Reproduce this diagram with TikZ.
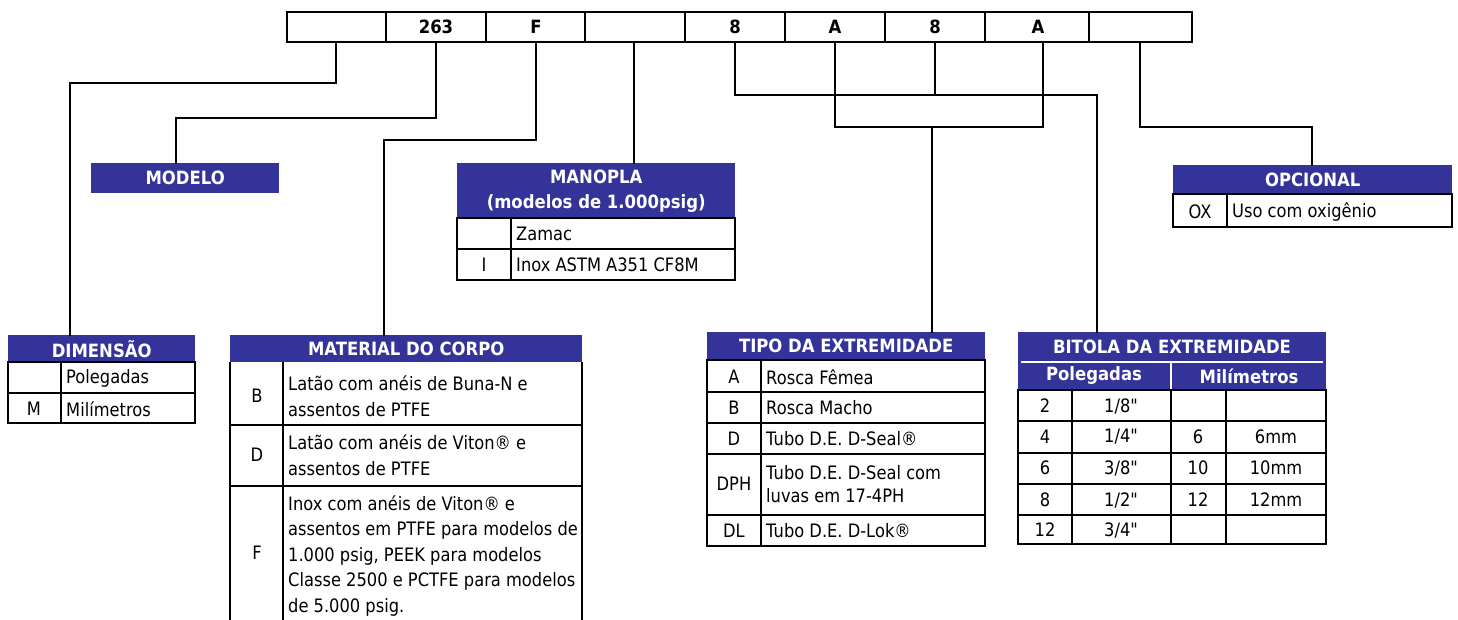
\documentclass[tikz,border=0pt]{standalone}
\usepackage{fontspec}
\setmainfont{DejaVu Sans}[FakeStretch=0.88, Ligatures=TeXOff]
\newfontfamily\hdfont{DejaVu Sans}[FakeStretch=0.90]
\definecolor{hdblue}{RGB}{51,51,153}
\tikzset{
  hdr/.style={fill=hdblue, draw=none, inner sep=0pt, anchor=north west, text=white,
    font=\hdfont\bfseries\fontsize{18.3}{25}\selectfont, align=center},
  htxt/.style={text=white, inner sep=0pt, font=\hdfont\bfseries\fontsize{18.3}{25}\selectfont},
  tx/.style={inner sep=0pt, anchor=west, align=left, font=\fontsize{18.5}{25.5}\selectfont},
  cd/.style={inner sep=0pt, font=\fontsize{18.5}{25.5}\selectfont},
  bar/.style={inner sep=0pt, font=\hdfont\bfseries\fontsize{18.3}{20}\selectfont},
  tb/.style={line width=2.2pt},
  conn/.style={line width=1.4pt, line cap=rect},
}
\newcommand{\inch}{\symbol{34}}
\begin{document}
\begin{tikzpicture}[x=1pt,y=-1pt]
\useasboundingbox[fill=white] (0,0) rectangle (1458,619);

% ---- top code bar ----
\draw[line width=2.8pt] (287,12) rectangle (1192,42);
\foreach \xx in {386,486,585,685,785,885,985,1089}
  \draw[line width=1.6pt] (\xx,12) -- (\xx,42);
\node[bar] (t2) at (436,27) {263};
\node[bar] (t3) at (536,27) {F};
\node[bar] (t5) at (735,27) {8};
\node[bar] (t6) at (835,27) {A};
\node[bar] (t7) at (935,27) {8};
\node[bar] (t8) at (1038,27) {A};
\coordinate (c1) at (336,42);
\coordinate (c2) at (436,42);
\coordinate (c3) at (536,42);
\coordinate (c4) at (634,42);
\coordinate (c5) at (735,42);
\coordinate (c6) at (835,42);
\coordinate (c7) at (935,42);
\coordinate (c8) at (1043,42);
\coordinate (c9) at (1140,42);

% ---- headers ----
\node[hdr, minimum width=187pt, minimum height=27pt] (dimH) at (8,335) {DIMENSÃO};
\node[hdr, minimum width=188pt, minimum height=30pt] (modH) at (91,163) {MODELO};
\node[hdr, minimum width=352pt, minimum height=27pt] (matH) at (230,335) {MATERIAL DO CORPO};
\node[hdr, minimum width=278pt, minimum height=55pt] (manH) at (457,163) {MANOPLA\\(modelos de 1.000psig)};
\node[hdr, minimum width=278pt, minimum height=28pt] (tipH) at (707,332) {TIPO DA EXTREMIDADE};
\node[hdr, minimum width=308pt, minimum height=58pt] (bitH) at (1018,332) {};
\node[hdr, minimum width=279pt, minimum height=29pt] (opcH) at (1173,165) {OPCIONAL};

% ---- connectors ----
\coordinate (j1) at (70,83);
\coordinate (j2) at (176,118);
\coordinate (j3) at (384,140);
\coordinate (j5) at (1097,95);
\coordinate (j6) at (932,127);
\coordinate (j9) at (1312,127);
\draw[conn] (c1) |- (j1) -- (j1 |- dimH.north);
\draw[conn] (c2) |- (j2) -- (j2 |- modH.north);
\draw[conn] (c3) |- (j3) -- (j3 |- matH.north);
\draw[conn] (c4) -- (c4 |- manH.north);
\draw[conn] (c5) |- (j5) -- (j5 |- bitH.north);
\draw[conn] (c7) -- (c7 |- j5);
\draw[conn] (c6) |- (c8 |- j6);
\draw[conn] (c8) -- (c8 |- j6);
\draw[conn] (j6) -- (j6 |- tipH.north);
\draw[conn] (c9) |- (j9) -- (j9 |- opcH.north);

% ---- DIMENSAO ----
\draw[tb] (8,362) rectangle (195,423);
\draw[tb] (8,393) -- (195,393);
\draw[tb] (61,362) -- (61,423);
\node[tx] (d1) at (66,378) {Polegadas};
\node[cd] (d2c) at (34,409) {M};
\node[tx] (d2) at (66,409) {Milímetros};

% ---- MATERIAL DO CORPO ----
\draw[tb] (230,362) -- (230,625);
\draw[tb] (582,362) -- (582,625);
\draw[tb] (283,362) -- (283,625);
\draw[tb] (230,425) -- (582,425);
\draw[tb] (230,486) -- (582,486);
\node[cd] (m1c) at (257,396) {B};
\node[tx] (m1) at (288,396) {Latão com anéis de Buna-N e\\assentos de PTFE};
\node[cd] (m2c) at (257,455) {D};
\node[tx] (m2) at (288,455) {Latão com anéis de Viton® e\\assentos de PTFE};
\node[cd] (m3c) at (257,553) {F};
\node[tx] (m3) at (288,556) {Inox com anéis de Viton® e\\assentos em PTFE para modelos de\\1.000 psig, PEEK para modelos\\Classe 2500 e PCTFE para modelos\\de 5.000 psig.};

% ---- MANOPLA ----
\draw[tb] (457,218) rectangle (735,280);
\draw[tb] (457,249) -- (735,249);
\draw[tb] (511,218) -- (511,280);
\node[tx] (n1) at (516,234) {Zamac};
\node[cd] (n2c) at (484,265) {I};
\node[tx] (n2) at (516,265) {Inox ASTM A351 CF8M};

% ---- TIPO DA EXTREMIDADE ----
\draw[tb] (707,360) rectangle (985,546);
\foreach \yy in {392,423,454,515} \draw[tb] (707,\yy) -- (985,\yy);
\draw[tb] (761,360) -- (761,546);
\node[cd] (p1c) at (734,377) {A};
\node[tx] (p1) at (766,377) {Rosca Fêmea};
\node[cd] (p2c) at (734,408) {B};
\node[tx] (p2) at (766,408) {Rosca Macho};
\node[cd] (p3c) at (734,439) {D};
\node[tx] (p3) at (766,439) {Tubo D.E. D-Seal®};
\node[cd] (p4c) at (734,484) {DPH};
\node[tx, font=\fontsize{18.5}{23.5}\selectfont] (p4) at (766,484) {Tubo D.E. D-Seal com\\luvas em 17-4PH};
\node[cd] (p5c) at (734,531) {DL};
\node[tx] (p5) at (766,531) {Tubo D.E. D-Lok®};

% ---- BITOLA DA EXTREMIDADE ----
\draw[white, line width=1.5pt] (1021,362) -- (1323,362);
\draw[white, line width=1.5pt] (1171,362) -- (1171,390);
\node[htxt] (b0) at (1172,347) {BITOLA DA EXTREMIDADE};
\node[htxt] (b0a) at (1094,376) {Polegadas};
\node[htxt] (b0b) at (1249,376) {Milímetros};
\draw[tb] (1018,390) rectangle (1326,544);
\foreach \yy in {421,453,484,515} \draw[tb] (1018,\yy) -- (1326,\yy);
\foreach \xx in {1072,1171,1226} \draw[tb] (\xx,390) -- (\xx,544);
\node[cd] (b11) at (1045,406) {2};
\node[cd] (b12) at (1121,406) {1/8\inch};
\node[cd] (b21) at (1045,437) {4};
\node[cd] (b22) at (1121,437) {1/4\inch};
\node[cd] (b23) at (1198,437) {6};
\node[cd] (b24) at (1276,437) {6mm};
\node[cd] (b31) at (1045,468) {6};
\node[cd] (b32) at (1121,468) {3/8\inch};
\node[cd] (b33) at (1198,468) {10};
\node[cd] (b34) at (1276,468) {10mm};
\node[cd] (b41) at (1045,500) {8};
\node[cd] (b42) at (1121,500) {1/2\inch};
\node[cd] (b43) at (1198,500) {12};
\node[cd] (b44) at (1276,500) {12mm};
\node[cd] (b51) at (1045,530) {12};
\node[cd] (b52) at (1121,530) {3/4\inch};

% ---- OPCIONAL ----
\draw[tb] (1173,194) rectangle (1452,227);
\draw[tb] (1227,194) -- (1227,227);
\node[cd] (o1c) at (1200,212) {OX};
\node[tx] (o1) at (1232,212) {Uso com oxigênio};
\end{tikzpicture}
\end{document}
